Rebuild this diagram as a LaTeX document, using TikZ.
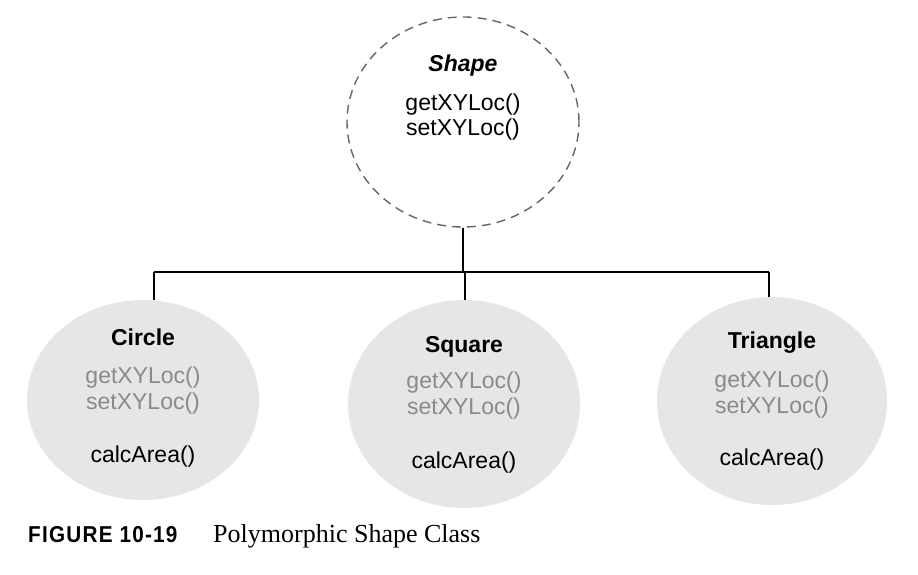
\documentclass[tikz,border=0pt]{standalone}
\usepackage{fontspec}
\setmainfont{Liberation Sans}
\newfontfamily\capserif{Liberation Serif}
\newfontfamily\capsans[LetterSpace=6]{Liberation Sans}
\usetikzlibrary{shapes.geometric}
\definecolor{ellfill}{HTML}{E6E6E6}
\definecolor{graytxt}{HTML}{8A8A8A}
\definecolor{dashgray}{HTML}{666666}
\tikzset{
  ell/.style={ellipse, fill=ellfill, draw=none, inner sep=0pt},
  dashell/.style={ellipse, draw=dashgray, line width=1.4pt, dash pattern=on 9pt off 6pt, fill=white, inner sep=0pt},
  txt/.style={anchor=base, inner sep=0pt, font=\fontsize{23}{27}\selectfont},
  ttl/.style={txt, font=\fontsize{23}{27}\selectfont\bfseries},
  gtxt/.style={txt, text=graytxt},
  conn/.style={line width=1.7pt, black}
}
\begin{document}
\begin{tikzpicture}[x=1pt,y=-1pt]
\useasboundingbox (0,0) rectangle (918,574);
% connectors
\coordinate (hub) at (463,272);
\coordinate (jl) at (154,272);
\coordinate (jr) at (769,272);
\coordinate (jm) at (465,272);
% shapes
\node[dashell, minimum width=232pt, minimum height=210pt] (shape) at (463,122) {};
\node[ell, minimum width=232pt, minimum height=200pt] (circle) at (143,400) {};
\node[ell, minimum width=232pt, minimum height=208pt] (square) at (464,404) {};
\node[ell, minimum width=230pt, minimum height=208pt] (triangle) at (772,401) {};
\draw[conn] (shape.south) -- (hub);
\draw[conn] (jl) -- (jr);
\draw[conn] (jl) -- (jl |- circle.north);
\draw[conn] (jm) -- (jm |- square.north);
\draw[conn] (jr) -- (jr |- triangle.north);
% shape text
\node[txt, font=\fontsize{23}{27}\selectfont\bfseries\itshape] (shapeT) at (463,71) {Shape};
\node[txt] (shapeG) at (463,110) {getXYLoc()};
\node[txt] (shapeS) at (463,135) {setXYLoc()};
% circle text
\node[ttl] (circleT) at (143,345) {Circle};
\node[gtxt] (circleG) at (143,383) {getXYLoc()};
\node[gtxt] (circleS) at (143,409) {setXYLoc()};
\node[txt] (circleA) at (143,462) {calcArea()};
% square text
\node[ttl] (squareT) at (464,352) {Square};
\node[gtxt] (squareG) at (464,388) {getXYLoc()};
\node[gtxt] (squareS) at (464,414) {setXYLoc()};
\node[txt] (squareA) at (464,468) {calcArea()};
% triangle text
\node[ttl] (triangleT) at (772,348) {Triangle};
\node[gtxt] (triangleG) at (772,387) {getXYLoc()};
\node[gtxt] (triangleS) at (772,413) {setXYLoc()};
\node[txt] (triangleA) at (772,465) {calcArea()};
% caption
\node[anchor=base west, inner sep=0pt, font=\capsans\fontsize{23}{27}\selectfont\bfseries] (figno) at (28,542) {\scalebox{0.9}[1]{FIGURE 10-19}};
\node[anchor=base west, inner sep=0pt, font=\capserif\fontsize{26}{30}\selectfont] (figcap) at (213,542) {Polymorphic Shape Class};
\end{tikzpicture}
\end{document}
